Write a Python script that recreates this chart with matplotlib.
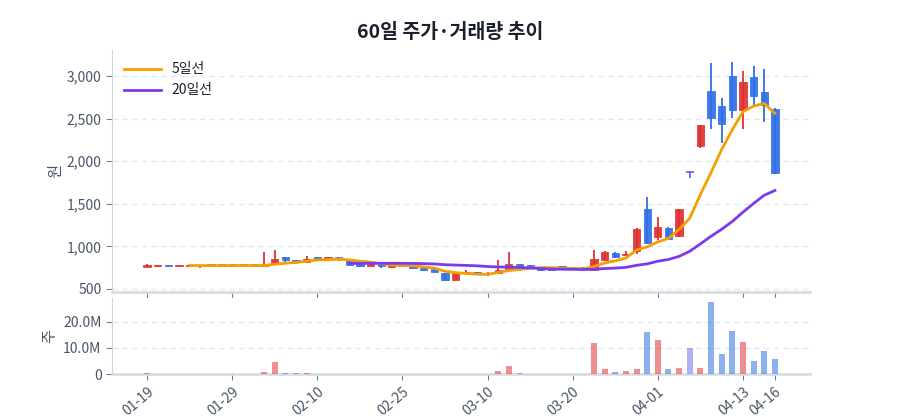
import matplotlib
matplotlib.use("Agg")
import matplotlib.pyplot as plt
import numpy as np
import pandas as pd
from matplotlib.ticker import FuncFormatter, FixedLocator

plt.rcParams['font.family'] = ['Noto Sans CJK KR', 'DejaVu Sans']

dates = ["01-19", "01-20", "01-21", "01-22", "01-23", "01-26", "01-27", "01-28", "01-29", "01-30",
         "02-02", "02-03", "02-04", "02-05", "02-06", "02-09", "02-10", "02-11", "02-12", "02-13",
         "02-19", "02-20", "02-23", "02-24", "02-25", "02-26", "02-27", "03-03", "03-04", "03-05",
         "03-06", "03-09", "03-10", "03-11", "03-12", "03-13", "03-16", "03-17", "03-18", "03-19",
         "03-20", "03-23", "03-24", "03-25", "03-26", "03-27", "03-30", "03-31", "04-01", "04-02",
         "04-03", "04-06", "04-07", "04-08", "04-09", "04-10", "04-13", "04-14", "04-15", "04-16"]

opens = [760, 772, 778, 772, 772, 776, 775, 775, 775, 775,
         775, 770, 800, 870, 838, 815, 875, 852, 858, 830,
         800, 770, 795, 755, 768, 770, 750, 735, 685, 605,
         690, 695, 675, 685, 735, 795, 785, 752, 738, 770,
         742, 755, 725, 840, 925, 900, 950, 1440, 1105, 1220,
         1125, 1875, 2180, 2825, 2650, 3000, 2600, 2990, 2815, 2615]
highs = [790, 782, 780, 778, 778, 778, 776, 776, 776, 776,
         776, 930, 960, 875, 840, 885, 878, 872, 862, 832,
         802, 800, 798, 782, 770, 772, 752, 737, 687, 687,
         720, 698, 697, 835, 930, 798, 787, 755, 740, 772,
         755, 757, 958, 945, 930, 950, 1213, 1577, 1340, 1225,
         1436, 1882, 2430, 3150, 2745, 3170, 3060, 3120, 3085, 2620]
lows = [758, 755, 758, 770, 770, 745, 774, 774, 774, 774,
        774, 770, 795, 815, 790, 810, 848, 850, 830, 780,
        755, 765, 750, 752, 765, 745, 720, 695, 597, 603,
        680, 670, 655, 680, 730, 745, 755, 715, 723, 745,
        738, 738, 720, 835, 860, 900, 905, 1030, 1075, 1085,
        1120, 1805, 2150, 2375, 2210, 2510, 2375, 2660, 2457, 1855]
closes = [780, 778, 772, 776, 776, 772, 775, 775, 775, 775,
          775, 778, 850, 835, 820, 850, 850, 870, 858, 785,
          770, 795, 772, 780, 768, 748, 728, 698, 600, 685,
          697, 688, 685, 720, 793, 758, 762, 718, 727, 748,
          752, 740, 852, 935, 875, 915, 1210, 1040, 1222, 1090,
          1435, 1875, 2425, 2510, 2440, 2600, 2930, 2760, 2660, 1860]
volumes_m = [0.2, 0, 0, 0, 0, 0, 0, 0, 0, 0,
             0, 0.9, 4.5, 0.5, 0.2, 0.2, 0, 0, 0, 0.15,
             0.15, 0, 0, 0, 0, 0, 0.15, 0.15, 0.15, 0,
             0, 0, 0, 1.3, 3.1, 0.5, 0, 0, 0, 0,
             0, 0, 11.7, 1.9, 0.9, 1.0, 1.9, 16.1, 12.8, 1.9,
             2.4, 10.0, 2.3, 27.4, 7.5, 16.3, 12.4, 5.1, 8.6, 5.9]

tick_idx = [0, 8, 16, 24, 32, 40, 48, 56, 59]

RED = '#e03131'
BLUE = '#2f6fe6'
NEU = '#6b63ec'
TXT = '#4a5568'
GRID = '#e2e8f0'
SPINE = '#cbd5e0'

df = pd.DataFrame({'o': opens, 'h': highs, 'l': lows, 'c': closes, 'v': np.array(volumes_m) * 1e6})
df['ma5'] = df['c'].rolling(5).mean()
df['ma20'] = df['c'].rolling(20).mean()
x = np.arange(len(df))

cols = [RED if c > o else (BLUE if c < o else NEU) for o, c in zip(df['o'], df['c'])]

fig = plt.figure(figsize=(9, 4.2), dpi=100)
ax = fig.add_axes([0.1244, 0.3036, 0.7756, 0.5774])
axv = fig.add_axes([0.1244, 0.1095, 0.7756, 0.181], sharex=ax)

# candles
ax.vlines(x, df['l'], df['h'], colors=cols, linewidth=1.3, zorder=2)
bottoms = np.minimum(df['o'], df['c'])
heights = np.maximum(np.abs(df['c'] - df['o']), 14)
ax.bar(x, heights, bottom=bottoms, width=0.68, color=cols, edgecolor=cols,
       linewidth=0.6, alpha=0.92, zorder=3)

ax.plot(x, df['ma5'], color='#f59f00', linewidth=2, label='5일선', zorder=4)
ax.plot(x, df['ma20'], color='#7c3aed', linewidth=2, label='20일선', zorder=4)

ax.set_ylim(459, 3306)
ax.set_xlim(-3.3, 62.3)
ax.yaxis.set_major_locator(FixedLocator([500, 1000, 1500, 2000, 2500, 3000]))
ax.yaxis.set_major_formatter(FuncFormatter(lambda v, p: f"{int(v):,}"))
ax.grid(axis='y', linestyle=(0, (4, 3)), color=GRID, linewidth=1)
ax.set_axisbelow(True)
ax.set_ylabel('원', color=TXT, fontsize=11)
ax.yaxis.set_label_coords(-0.068, 0.5)
leg = ax.legend(loc='upper left', frameon=False, fontsize=10, handlelength=2.6,
                bbox_to_anchor=(0.0, 1.0), labelcolor='#1a202c')

# volume
for xi, v, c in zip(x, df['v'], cols):
    if v > 0:
        axv.bar(xi, v, width=0.56, color=c, alpha=0.55 if c != NEU else 0.5, zorder=3)
axv.set_ylim(0, 29e6)
axv.yaxis.set_major_locator(FixedLocator([0, 10e6, 20e6]))
axv.yaxis.set_major_formatter(FuncFormatter(lambda v, p: '0' if v == 0 else f"{v/1e6:.1f}M"))
axv.grid(axis='y', linestyle=(0, (4, 3)), color=GRID, linewidth=1)
axv.set_axisbelow(True)
axv.set_ylabel('주', color=TXT, fontsize=11)
axv.yaxis.set_label_coords(-0.077, 0.5)

for a in (ax, axv):
    a.spines['top'].set_visible(False)
    a.spines['right'].set_visible(False)
    a.spines['left'].set_color(SPINE)
    a.spines['bottom'].set_color('#d5dae1')
    a.spines['bottom'].set_linewidth(1.8)
    a.tick_params(axis='y', colors=TXT, labelsize=10, length=4, color='#718096')
    a.tick_params(axis='x', colors='#718096', labelcolor=TXT, labelsize=10, length=4)

axv.set_xticks(tick_idx)
axv.set_xticklabels([dates[i] for i in tick_idx], rotation=40, ha='right', rotation_mode='anchor')
plt.setp(ax.get_xticklabels(), visible=False)

fig.text(0.5, 0.922, '60일 주가·거래량 추이', ha='center', va='center', fontsize=14,
         fontweight='bold', color='#1a202c')

fig.savefig('out.png', dpi=100)
